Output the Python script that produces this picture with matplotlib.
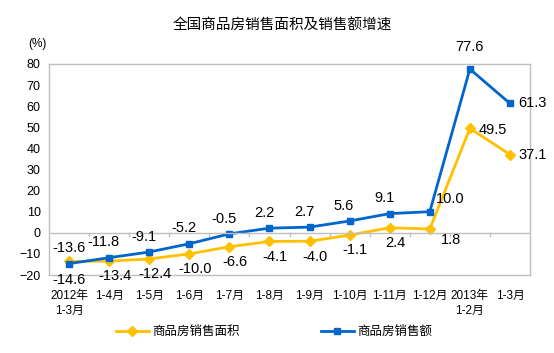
import matplotlib.pyplot as plt
import numpy as np

plt.rcParams['font.family'] = ['Liberation Sans', 'Noto Sans CJK SC', 'DejaVu Sans']

categories = ["2012年\n1-3月", "1-4月", "1-5月", "1-6月", "1-7月", "1-8月",
              "1-9月", "1-10月", "1-11月", "1-12月", "2013年\n1-2月", "1-3月"]
area_growth = [-13.6, -13.4, -12.4, -10.0, -6.6, -4.1, -4.0, -1.1, 2.4, 1.8, 49.5, 37.1]
sales_growth = [-14.6, -11.8, -9.1, -5.2, -0.5, 2.2, 2.7, 5.6, 9.1, 10.0, 77.6, 61.3]
yticks = [-20, -10, 0, 10, 20, 30, 40, 50, 60, 70, 80]

YELLOW = "#FFC000"
BLUE = "#0066CC"

fig = plt.figure(figsize=(5.54, 3.53), dpi=100)
ax = fig.add_axes([49 / 554, 1 - 275 / 353, 481 / 554, 211 / 353])

x = np.arange(len(categories))
ax.plot(x, area_growth, color=YELLOW, lw=2, marker="D", ms=5, label="商品房销售面积")
ax.plot(x, sales_growth, color=BLUE, lw=2, marker="s", ms=5, label="商品房销售额")

ax.set_xlim(-0.5, len(categories) - 0.5)
ax.set_ylim(-20, 80)
ax.set_yticks(yticks)
ax.tick_params(axis="y", length=0, labelsize=9, pad=6)
ax.tick_params(axis="x", length=0, labelsize=8.5, pad=11)
ax.set_xticks(x)
ax.set_xticklabels(categories, linespacing=1.25)

for s in ax.spines.values():
    s.set_color("#BFBFBF")
    s.set_linewidth(1)
ax.axhline(0, color="#BFBFBF", lw=1)
# category boundary ticks along the zero line
for b in np.arange(0.5, len(categories) - 0.5, 1):
    ax.plot([b, b], [0, -1.6], color="#BFBFBF", lw=1)

fs = 10.5
for i, (a, s) in enumerate(zip(area_growth, sales_growth)):
    if i == 0:
        ax.annotate(f"{a:.1f}", (i, a), xytext=(0, 10), textcoords="offset points",
                    ha="center", va="center", fontsize=fs)
        ax.annotate(f"{s:.1f}", (i, s), xytext=(0, -12), textcoords="offset points",
                    ha="center", va="center", fontsize=fs)
    elif i == 9:
        ax.annotate(f"{s:.1f}", (i, s), xytext=(15, 9), textcoords="offset points",
                    ha="center", va="center", fontsize=fs)
        ax.annotate(f"{a:.1f}", (i, a), xytext=(15, -8), textcoords="offset points",
                    ha="center", va="center", fontsize=fs)
    elif i == 10:
        ax.annotate(f"{s:.1f}", (i, s), xytext=(0, 16), textcoords="offset points",
                    ha="center", va="center", fontsize=fs)
        ax.annotate(f"{a:.1f}", (i, a), xytext=(6, -1), textcoords="offset points",
                    ha="left", va="center", fontsize=fs)
    elif i == 11:
        ax.annotate(f"{s:.1f}", (i, s), xytext=(6, 0), textcoords="offset points",
                    ha="left", va="center", fontsize=fs)
        ax.annotate(f"{a:.1f}", (i, a), xytext=(6, 0), textcoords="offset points",
                    ha="left", va="center", fontsize=fs)
    else:
        ax.annotate(f"{s:.1f}", (i, s), xytext=(-4, 11), textcoords="offset points",
                    ha="center", va="center", fontsize=fs)
        ax.annotate(f"{a:.1f}", (i, a), xytext=(4, -11), textcoords="offset points",
                    ha="center", va="center", fontsize=fs)

fig.text(282 / 554, 1 - 26 / 353, "全国商品房销售面积及销售额增速", ha="center", va="center",
         fontsize=10.5, fontweight="medium")
fig.text(37 / 554, 1 - 44 / 353, "(%)", ha="center", va="center", fontsize=8.5)

fig.legend(loc="center", bbox_to_anchor=(0.495, 1 - 332 / 353), ncol=2, frameon=False,
           fontsize=9, columnspacing=6.5, handlelength=2.6, handletextpad=0.3)

fig.savefig("out.png", dpi=100)
